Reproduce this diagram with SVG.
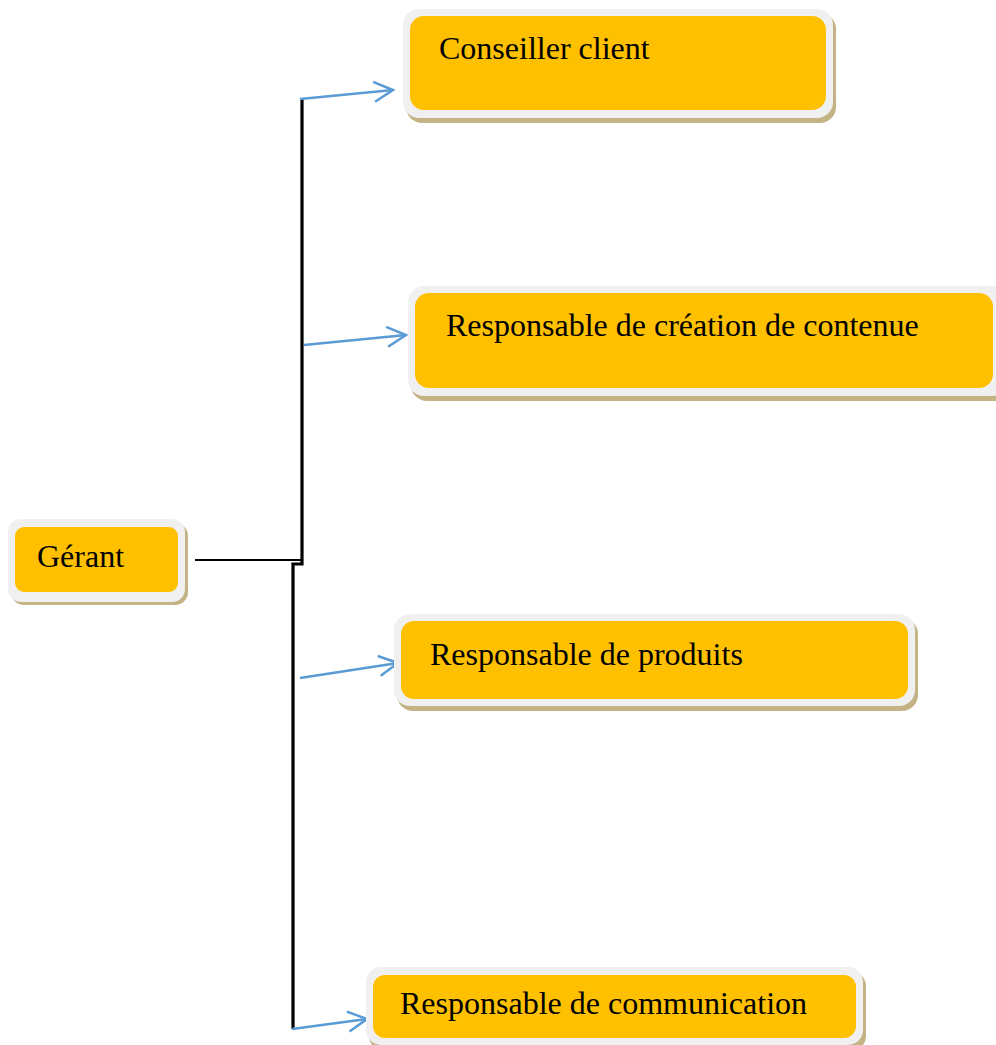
<svg xmlns="http://www.w3.org/2000/svg" width="996" height="1045" viewBox="0 0 996 1045">
<style>
.sh{fill:#C3B385}
.bd{fill:#F0F0F0}
.in{fill:#FFC000}
.t{font-family:"Liberation Serif","Times New Roman",serif;font-size:32px;fill:#000}
.cb{fill:none;stroke:#000}
.ca{fill:none;stroke:#5B9BD5;stroke-width:2.5}
</style>
<defs>
<marker id="ah" viewBox="0 0 26 26" refX="23" refY="13" markerWidth="26" markerHeight="26" markerUnits="userSpaceOnUse" orient="auto">
<path d="M4,3 L23,13 L4,23" fill="none" stroke="#5B9BD5" stroke-width="2.5"/>
</marker>
</defs>
<rect width="996" height="1045" fill="#fff"/>
<g id="connectors">
<line class="cb" x1="195" y1="560" x2="302" y2="560" stroke-width="2.2"/>
<path class="cb" d="M302,99 L302,564 L293,564 L293,1029" stroke-width="3.2"/>
<line class="ca" x1="300" y1="99" x2="393" y2="90" marker-end="url(#ah)"/>
<line class="ca" x1="304" y1="345" x2="406" y2="335" marker-end="url(#ah)"/>
<line class="ca" x1="300" y1="678" x2="398" y2="663" marker-end="url(#ah)"/>
<line class="ca" x1="292" y1="1029" x2="367" y2="1019" marker-end="url(#ah)"/>
</g>
<g id="gerant">
<rect class="sh" x="11" y="523" width="177" height="82" rx="13"/>
<rect class="bd" x="8" y="519" width="177" height="83" rx="13"/>
<rect class="in" x="15" y="527" width="163" height="65" rx="9"/>
<text class="t" x="37" y="567">Gérant</text>
</g>
<g id="conseiller">
<rect class="sh" x="406" y="13" width="430" height="110" rx="16"/>
<rect class="bd" x="403" y="9" width="430" height="109" rx="16"/>
<rect class="in" x="410" y="16" width="416" height="94" rx="14"/>
<text class="t" x="439" y="59">Conseiller client</text>
</g>
<g id="creation">
<rect class="sh" x="411" y="290" width="600" height="111" rx="16"/>
<rect class="bd" x="408" y="286" width="600" height="110" rx="16"/>
<rect class="in" x="415" y="293" width="578" height="95" rx="14"/>
<text class="t" x="446" y="336">Responsable de création de contenue</text>
</g>
<g id="produits">
<rect class="sh" x="397" y="618" width="521" height="93" rx="16"/>
<rect class="bd" x="394" y="614" width="521" height="92" rx="16"/>
<rect class="in" x="401" y="621" width="507" height="78" rx="13"/>
<text class="t" x="430" y="665">Responsable de produits</text>
</g>
<g id="communication">
<rect class="sh" x="369" y="971" width="497" height="80" rx="15"/>
<rect class="bd" x="366" y="967" width="497" height="78" rx="15"/>
<rect class="in" x="373" y="975" width="483" height="63" rx="12"/>
<text class="t" x="400" y="1014">Responsable de communication</text>
</g>
</svg>
